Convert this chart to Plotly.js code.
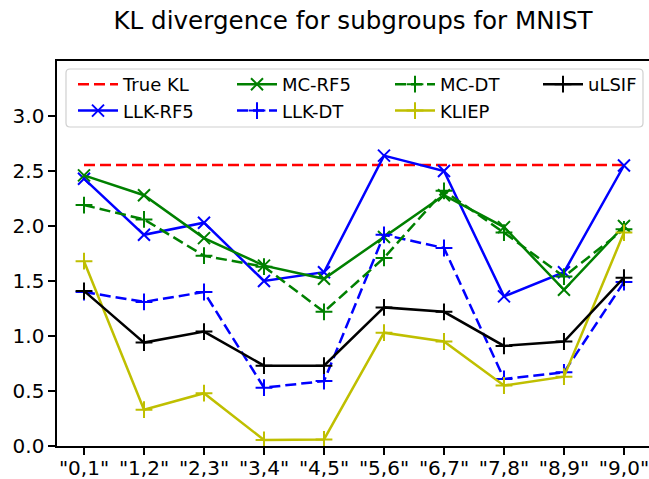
<!DOCTYPE html>
<html>
<head>
<meta charset="utf-8">
<script src="https://cdn.plot.ly/plotly-3.0.1.min.js"></script>
<style>html,body{margin:0;padding:0;background:#fff;}#chart{width:649px;height:479px;}</style>
</head>
<body>
<div id="chart"></div>
<script>
const categories = ['"0,1"','"1,2"','"2,3"','"3,4"','"4,5"','"5,6"','"6,7"','"7,8"','"8,9"','"9,0"'];
const trueKL = [2.555,2.555,2.555,2.555,2.555,2.555,2.555,2.555,2.555,2.555];
const llkRF5 = [2.43,1.92,2.03,1.50,1.58,2.64,2.50,1.36,1.58,2.55];
const mcRF5  = [2.46,2.28,1.89,1.64,1.52,1.90,2.28,1.99,1.42,2.00];
const llkDT  = [1.40,1.31,1.40,0.53,0.59,1.92,1.80,0.61,0.67,1.49];
const mcDT   = [2.19,2.06,1.73,1.63,1.22,1.71,2.32,1.94,1.54,1.97];
const kliep  = [1.68,0.33,0.48,0.055,0.06,1.03,0.95,0.55,0.63,1.94];
const ulsif  = [1.41,0.94,1.04,0.73,0.73,1.26,1.22,0.91,0.95,1.53];
const yTicks = [0,0.5,1,1.5,2,2.5,3];

const W = 649, H = 479, ML = 57, MR = 0, MT = 61, MB = 33;
const PW = W - ML - MR, PH = H - MT - MB;
const px2x = p => (p - ML) / PW;
const px2y = p => (H - MB - p) / PH;

const LW = 2.5;
function tr(name, y, color, dash, symbol, legend) {
  const t = {x: categories, y: y, name: name, type: 'scatter',
    mode: symbol ? 'lines+markers' : 'lines',
    line: {color: color, width: LW, dash: dash ? '11px,5px' : 'solid'},
    legend: legend};
  if (symbol) t.marker = {symbol: symbol, size: 12, color: color, line: {color: color, width: 2}};
  return t;
}
const data = [
  tr('True KL', trueKL, '#ff0000', true, null, 'legend'),
  tr('LLK-RF5', llkRF5, '#0000ff', false, 'x-thin', 'legend'),
  tr('MC-RF5', mcRF5, '#008000', false, 'x-thin', 'legend2'),
  tr('LLK-DT', llkDT, '#0000ff', true, 'cross-thin', 'legend2'),
  tr('MC-DT', mcDT, '#008000', true, 'cross-thin', 'legend3'),
  tr('KLIEP', kliep, '#bfbf00', false, 'cross-thin', 'legend3'),
  tr('uLSIF', ulsif, '#000000', false, 'cross-thin', 'legend4')
];
function leg(textPx) {
  return {orientation: 'v', x: px2x(textPx - 50), xanchor: 'left', y: px2y(66), yanchor: 'top',
    bgcolor: 'rgba(0,0,0,0)', borderwidth: 0,
    font: {size: 18, family: 'DejaVu Sans', color: '#000'}, itemwidth: 40};
}
// rounded legend frame
const bx0 = px2x(66), bx1 = px2x(643), by0 = px2y(127), by1 = px2y(69);
const rx = 4 / PW, ry = 4 / PH;
const framePath = `M${bx0+rx},${by1} L${bx1-rx},${by1} Q${bx1},${by1} ${bx1},${by1-ry} L${bx1},${by0+ry} Q${bx1},${by0} ${bx1-rx},${by0} L${bx0+rx},${by0} Q${bx0},${by0} ${bx0},${by0+ry} L${bx0},${by1-ry} Q${bx0},${by1} ${bx0+rx},${by1} Z`;

const layout = {
  width: W, height: H,
  margin: {l: ML, r: MR, t: MT, b: MB},
  paper_bgcolor: '#fff', plot_bgcolor: '#fff',
  font: {family: 'DejaVu Sans', size: 20, color: '#000'},
  title: {text: 'KL divergence for subgroups for MNIST', font: {size: 24.6, family: 'DejaVu Sans', color: '#000'},
    xref: 'paper', x: 0.5, xanchor: 'center', yref: 'container', y: 1 - 20/479, yanchor: 'middle'},
  xaxis: {type: 'category', range: [-0.45, 9.417], showgrid: false, zeroline: false,
    showline: true, mirror: true, linecolor: '#000', linewidth: 1.6,
    ticks: 'outside', ticklen: 7, tickwidth: 1.6, tickcolor: '#000', ticklabelstandoff: -4,
    tickfont: {size: 20, family: 'DejaVu Sans'}},
  yaxis: {range: [0, 3.5], showgrid: false, zeroline: false,
    showline: true, mirror: false, linecolor: '#000', linewidth: 1.6,
    ticks: 'outside', ticklen: 7, tickwidth: 1.6, tickcolor: '#000',
    tickvals: yTicks, tickformat: '.1f',
    tickfont: {size: 20, family: 'DejaVu Sans'}},
  showlegend: true,
  legend: leg(123), legend2: leg(282), legend3: leg(440), legend4: leg(588),
  shapes: [{type: 'path', xref: 'paper', yref: 'paper', path: framePath, layer: 'above',
    fillcolor: 'rgba(255,255,255,0.8)', line: {color: '#d0d0d0', width: 1.2}}]
};
Plotly.newPlot('chart', data, layout, {displayModeBar: false, staticPlot: true});
</script>
</body>
</html>
